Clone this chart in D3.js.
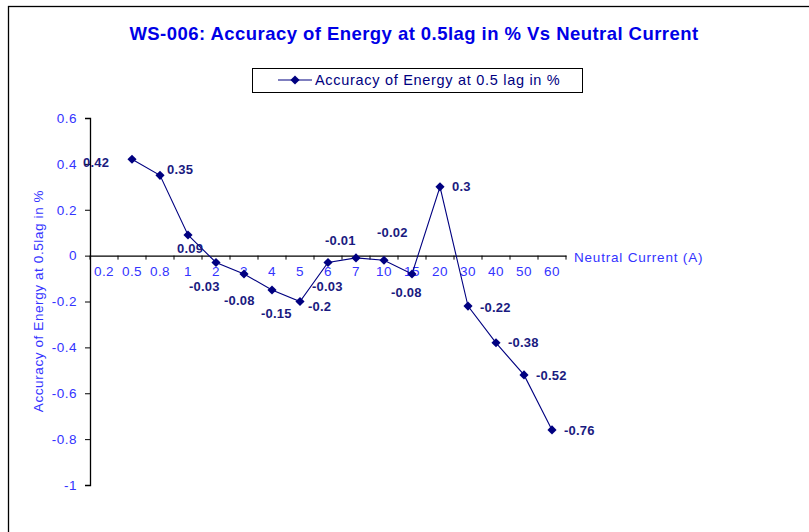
<!DOCTYPE html>
<html>
<head>
<meta charset="utf-8">
<script src="https://cdn.jsdelivr.net/npm/d3@7"></script>
<style>
  body { margin: 0; background: #fff; }
  svg { display: block; font-family: "Liberation Sans", Arial, sans-serif; }
</style>
</head>
<body>
<div id="chart"></div>
<script>
(function(){
    "use strict";

    // data
    var categories = ["0.2","0.5","0.8","1","2","3","4","5","6","7","10","15","20","30","40","50","60"];
    var accuracy = [null,0.42,0.35,0.09,-0.03,-0.08,-0.15,-0.2,-0.03,-0.01,-0.02,-0.08,0.3,-0.22,-0.38,-0.52,-0.76];
    var yTicks = [0.6,0.4,0.2,0,-0.2,-0.4,-0.6,-0.8,-1];

    // hand placed data label offsets (dx, dy from the marker)
    var labelOffsets = [null,[-49,3],[7,-6],[-11,13],[-27,24],[-20,26],[-11,23],[8,5],[-16,24],[-31,-18],[-7,-28],[-21,18],[12,0],[12,1],[12,0],[12,0],[12,0]];

    var W = 809, H = 532;
    var left = 90, right = 566, top = 118, bottom = 485;
    var navy = "#000080", blue = "#3333ff";

    var svg = d3.select("#chart").append("svg")
        .attr("width", W)
        .attr("height", H);

    // outer frame
    svg.append("rect")
        .attr("x", 8.5).attr("y", 6.5)
        .attr("width", W + 10).attr("height", H + 10)
        .attr("fill", "none").attr("stroke", "#000").attr("stroke-width", 1.3);

    // title
    svg.append("text")
        .attr("x", 414).attr("y", 40)
        .attr("text-anchor", "middle")
        .attr("fill", "#0000e6")
        .attr("font-size", 18.5).attr("font-weight", "bold")
        .style("letter-spacing", "0.45px")
        .text("WS-006: Accuracy of Energy at 0.5lag in % Vs Neutral Current");

    // scales
    var x = d3.scaleBand().domain(categories).range([left, right]).padding(0);
    var y = d3.scaleLinear().domain([-1, 0.6]).range([bottom, top]);
    var cx = function(c) { return x(c) + x.bandwidth() / 2; };

    // y axis
    var yAxis = svg.append("g")
        .attr("transform", "translate(" + left + ",0)")
        .call(d3.axisLeft(y).tickValues(yTicks).tickSize(5).tickPadding(8)
            .tickFormat(function(d) { return String(+d.toFixed(1)); }));
    yAxis.select(".domain").attr("stroke", "#000").attr("stroke-width", 1.3);
    yAxis.selectAll(".tick line").attr("stroke", "#000");
    yAxis.selectAll(".tick text").attr("fill", blue).attr("font-size", 13.5)
        .style("letter-spacing", "0.5px")
        .attr("font-family", "Liberation Sans, Arial, sans-serif");

    // x axis on the zero line, labels between ticks
    var xAxis = svg.append("g")
        .attr("transform", "translate(0," + y(0) + ")")
        .call(d3.axisBottom(x).tickSize(0).tickPadding(11));
    xAxis.select(".domain").attr("stroke", "#000").attr("stroke-width", 1.3);
    xAxis.selectAll(".tick text").attr("fill", blue).attr("font-size", 13.5)
        .style("letter-spacing", "0.4px")
        .attr("font-family", "Liberation Sans, Arial, sans-serif");
    xAxis.selectAll(".boundary")
        .data(categories.map(function(c) { return x(c); }).concat([right]))
        .enter().append("line")
        .attr("class", "boundary")
        .attr("x1", function(d) { return d; }).attr("x2", function(d) { return d; })
        .attr("y1", 0).attr("y2", 4)
        .attr("stroke", "#000");

    svg.append("text")
        .attr("x", 574).attr("y", y(0) + 6)
        .attr("fill", blue).attr("font-size", 13.5)
        .style("letter-spacing", "0.8px")
        .text("Neutral Current (A)");

    // y axis title
    svg.append("text")
        .attr("transform", "translate(43,301) rotate(-90)")
        .attr("text-anchor", "middle")
        .attr("fill", blue).attr("font-size", 13.5)
        .style("letter-spacing", "0.6px")
        .text("Accuracy of Energy at 0.5lag in %");

    // series
    var pts = categories.map(function(c, i) { return {c: c, v: accuracy[i], off: labelOffsets[i]}; })
        .filter(function(d) { return d.v !== null; });

    var line = d3.line()
        .x(function(d) { return cx(d.c); })
        .y(function(d) { return y(d.v); });

    svg.append("path")
        .datum(pts)
        .attr("d", line)
        .attr("fill", "none")
        .attr("stroke", navy)
        .attr("stroke-width", 1.1);

    // square turned 45deg = Excel diamond marker
    var diamond = d3.symbol().type(d3.symbolSquare).size(42);
    svg.selectAll(".pt")
        .data(pts)
        .enter().append("path")
        .attr("class", "pt")
        .attr("d", diamond)
        .attr("transform", function(d) { return "translate(" + cx(d.c) + "," + y(d.v) + ") rotate(45)"; })
        .attr("fill", navy);

    svg.selectAll(".lbl")
        .data(pts)
        .enter().append("text")
        .attr("class", "lbl")
        .attr("x", function(d) { return cx(d.c) + d.off[0]; })
        .attr("y", function(d) { return y(d.v) + d.off[1]; })
        .attr("dy", "0.36em")
        .attr("fill", "#1a1a80")
        .attr("font-size", 13).attr("font-weight", "bold")
        .style("letter-spacing", "0.2px")
        .text(function(d) { return String(d.v); });

    // legend
    var lg = svg.append("g");
    lg.append("rect")
        .attr("x", 252.5).attr("y", 68.5)
        .attr("width", 330).attr("height", 24)
        .attr("fill", "#fff").attr("stroke", "#000");
    lg.append("line")
        .attr("x1", 278).attr("x2", 312).attr("y1", 80).attr("y2", 80)
        .attr("stroke", navy).attr("stroke-width", 1.1);
    lg.append("path")
        .attr("d", diamond)
        .attr("transform", "translate(295,80) rotate(45)")
        .attr("fill", navy);
    lg.append("text")
        .attr("x", 315).attr("y", 85)
        .attr("fill", navy).attr("font-size", 14.5)
        .style("letter-spacing", "0.7px")
        .text("Accuracy of Energy at 0.5 lag in %");
})();
</script>
</body>
</html>
